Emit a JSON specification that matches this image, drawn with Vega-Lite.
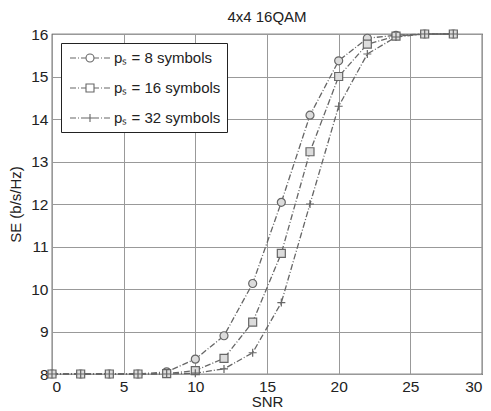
{
  "$schema": "https://vega.github.io/schema/vega-lite/v6.json",
  "width": 430,
  "height": 340,
  "autosize": {"type": "none"},
  "padding": {"left": 52, "top": 34, "right": 9, "bottom": 37},
  "background": "white",
  "config": {
    "font": "Liberation Sans",
    "view": {"stroke": "#222", "strokeWidth": 1.2},
    "axis": {
      "grid": true,
      "gridColor": "#999",
      "gridWidth": 1,
      "domain": false,
      "ticks": false,
      "labelFontSize": 15.5,
      "labelColor": "#222",
      "titleFontSize": 15,
      "titleFontWeight": "normal",
      "titleColor": "#222"
    }
  },
  "title": {"text": "4x4 16QAM", "fontSize": 15, "fontWeight": "normal", "color": "#222", "offset": 2},
  "data": {
    "values": [
      {"series": "p8", "snr": 0, "se": 8.0}, {"series": "p8", "snr": 2, "se": 8.0}, {"series": "p8", "snr": 4, "se": 8.0},
      {"series": "p8", "snr": 6, "se": 8.0}, {"series": "p8", "snr": 8, "se": 8.05}, {"series": "p8", "snr": 10, "se": 8.35},
      {"series": "p8", "snr": 12, "se": 8.9}, {"series": "p8", "snr": 14, "se": 10.13}, {"series": "p8", "snr": 16, "se": 12.04},
      {"series": "p8", "snr": 18, "se": 14.09}, {"series": "p8", "snr": 20, "se": 15.37}, {"series": "p8", "snr": 22, "se": 15.9},
      {"series": "p8", "snr": 24, "se": 15.97}, {"series": "p8", "snr": 26, "se": 16.0}, {"series": "p8", "snr": 28, "se": 16.0},
      {"series": "p16", "snr": 0, "se": 8.0}, {"series": "p16", "snr": 2, "se": 8.0}, {"series": "p16", "snr": 4, "se": 8.0},
      {"series": "p16", "snr": 6, "se": 8.0}, {"series": "p16", "snr": 8, "se": 8.01}, {"series": "p16", "snr": 10, "se": 8.08},
      {"series": "p16", "snr": 12, "se": 8.37}, {"series": "p16", "snr": 14, "se": 9.22}, {"series": "p16", "snr": 16, "se": 10.84},
      {"series": "p16", "snr": 18, "se": 13.23}, {"series": "p16", "snr": 20, "se": 15.0}, {"series": "p16", "snr": 22, "se": 15.76},
      {"series": "p16", "snr": 24, "se": 15.95}, {"series": "p16", "snr": 26, "se": 16.0}, {"series": "p16", "snr": 28, "se": 16.0},
      {"series": "p32", "snr": 0, "se": 8.0}, {"series": "p32", "snr": 2, "se": 8.0}, {"series": "p32", "snr": 4, "se": 8.0},
      {"series": "p32", "snr": 6, "se": 8.0}, {"series": "p32", "snr": 8, "se": 8.0}, {"series": "p32", "snr": 10, "se": 8.02},
      {"series": "p32", "snr": 12, "se": 8.12}, {"series": "p32", "snr": 14, "se": 8.5}, {"series": "p32", "snr": 16, "se": 9.68},
      {"series": "p32", "snr": 18, "se": 12.0}, {"series": "p32", "snr": 20, "se": 14.3}, {"series": "p32", "snr": 22, "se": 15.53},
      {"series": "p32", "snr": 24, "se": 15.93}, {"series": "p32", "snr": 26, "se": 16.0}, {"series": "p32", "snr": 28, "se": 16.0}
    ]
  },
  "encoding": {
    "x": {
      "field": "snr", "type": "quantitative",
      "scale": {"domain": [0, 30], "nice": false},
      "axis": {"values": [0, 5, 10, 15, 20, 25, 30], "title": "SNR", "labelPadding": 5, "titlePadding": 0}
    },
    "y": {
      "field": "se", "type": "quantitative",
      "scale": {"domain": [8, 16], "nice": false, "zero": false},
      "axis": {"values": [8, 9, 10, 11, 12, 13, 14, 15, 16], "title": "SE (b/s/Hz)", "labelPadding": 4, "titlePadding": 7}
    }
  },
  "layer": [
    {
      "mark": {"type": "line", "stroke": "#666", "strokeWidth": 1.3, "strokeDash": [6, 2, 1, 2]},
      "encoding": {
        "detail": {"field": "series"}
      }
    },
    {
      "mark": {"type": "point", "filled": false, "fill": "#dcdcdc", "fillOpacity": 1, "stroke": "#666", "strokeWidth": 1.2, "opacity": 1, "size": 64},
      "encoding": {
        "shape": {
          "field": "series", "type": "nominal", "legend": null,
          "scale": {"domain": ["p8", "p16", "p32"], "range": ["circle", "square", "M-1,0H1M0,-1V1"]}
        }
      }
    },
    {
      "mark": {"type": "point", "opacity": 0, "size": 256},
      "encoding": {
        "shape": {
          "field": "series", "type": "nominal",
          "scale": {"domain": ["p8", "p16", "p32"], "range": [
            "M-2.5,0H-1.75M-1.5,0H-1.375M-1.125,0H-0.5M0.5,0A0.5,0.5 0 1,1 -0.5,0A0.5,0.5 0 1,1 0.5,0M0.5,0H1.125M1.375,0H1.5M1.75,0H2.5",
            "M-2.5,0H-1.75M-1.5,0H-1.375M-1.125,0H-0.5M-0.5,-0.5H0.5V0.5H-0.5ZM0.5,0H1.125M1.375,0H1.5M1.75,0H2.5",
            "M-2.5,0H-1.75M-1.5,0H-1.375M-1.125,0H1.125M0,-0.5V0.5M1.375,0H1.5M1.75,0H2.5"
          ]},
          "legend": {
            "title": null,
            "orient": "top-left",
            "offset": 9,
            "labelExpr": "datum.value == 'p8' ? 'pₛ = 8 symbols' : datum.value == 'p16' ? 'pₛ = 16 symbols' : 'pₛ = 32 symbols'",
            "labelFontSize": 15,
            "labelColor": "#222",
            "labelOffset": 15,
            "symbolOffset": 14,
            "rowPadding": 13,
            "padding": 6,
            "strokeColor": "#222",
            "fillColor": "white",
            "symbolSize": 256,
            "symbolStrokeWidth": 1.1,
            "symbolStrokeColor": "#666",
            "symbolFillColor": "#eee",
            "symbolOpacity": 1,
            "encode": {
              "symbols": {"update": {"opacity": {"value": 1}, "fillOpacity": {"value": 1}, "strokeOpacity": {"value": 1}, "size": {"value": 256}, "stroke": {"value": "#666"}, "fill": {"value": "#eee"}}}
            }
          }
        }
      }
    }
  ],
  "resolve": {"scale": {"shape": "independent"}, "legend": {"shape": "independent"}}
}
